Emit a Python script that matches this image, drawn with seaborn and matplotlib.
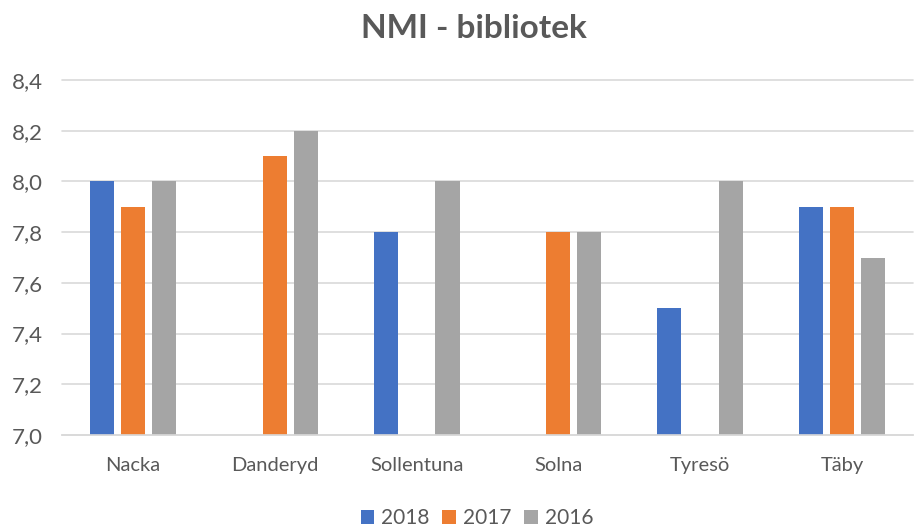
import numpy as np
import pandas as pd
import seaborn as sns
import matplotlib.pyplot as plt
from matplotlib.ticker import FuncFormatter

kommuner = ["Nacka", "Danderyd", "Sollentuna", "Solna", "Tyresö", "Täby"]
ar = ["2018", "2017", "2016"]
nmi_2018 = [8.0, np.nan, 7.8, np.nan, 7.5, 7.9]
nmi_2017 = [7.9, 8.1, np.nan, 7.8, np.nan, 7.9]
nmi_2016 = [8.0, 8.2, 8.0, 7.8, 8.0, 7.7]
farger = ["#4472C4", "#ED7D31", "#A5A5A5"]

df = pd.DataFrame({"Kommun": kommuner * 3,
                   "År": np.repeat(ar, len(kommuner)),
                   "NMI": nmi_2018 + nmi_2017 + nmi_2016})

sns.set_style("white")
plt.rcParams["font.family"] = ["Lato", "DejaVu Sans"]

fig = plt.figure(figsize=(9.15, 5.3), dpi=100)
ax = fig.add_axes([62 / 915, 95 / 530, 851 / 915, 355 / 530])

sns.barplot(data=df, x="Kommun", y="NMI", hue="År", hue_order=ar,
            palette=farger, width=0.655, gap=0.22, ax=ax,
            errorbar=None, saturation=1, linewidth=0)

ax.set_ylim(7.0, 8.4)
ax.set_yticks(np.arange(7.0, 8.41, 0.2))
ax.yaxis.set_major_formatter(FuncFormatter(lambda v, p: f"{v:.1f}".replace(".", ",")))
ax.grid(axis="y", color="#D9D9D9", linewidth=1.2)
for gl in ax.get_ygridlines():
    gl.set_clip_on(False)
ax.set_axisbelow(True)
for s in ["left", "right", "top"]:
    ax.spines[s].set_visible(False)
ax.spines["bottom"].set_color("#D9D9D9")
ax.spines["bottom"].set_linewidth(1.2)
ax.tick_params(axis="y", length=0, labelsize=16, colors="#595959", pad=14)
ax.tick_params(axis="x", length=0, labelsize=14.5, colors="#595959", pad=16)
ax.set_xlabel("")
ax.set_ylabel("")
fig.text(474 / 915, 1 - 28 / 530, "NMI - bibliotek", fontsize=24, fontweight="bold",
         color="#595959", ha="center", va="center")

handles, labels = ax.get_legend_handles_labels()
ax.get_legend().remove()
fig.legend(handles, labels, loc="center", bbox_to_anchor=(477 / 915, 1 - 518 / 530), ncol=3,
           frameon=False, fontsize=15, handlelength=0.65, handleheight=0.65,
           columnspacing=0.6, handletextpad=0.35, labelcolor="#595959")

plt.savefig("out.png", dpi=100)
